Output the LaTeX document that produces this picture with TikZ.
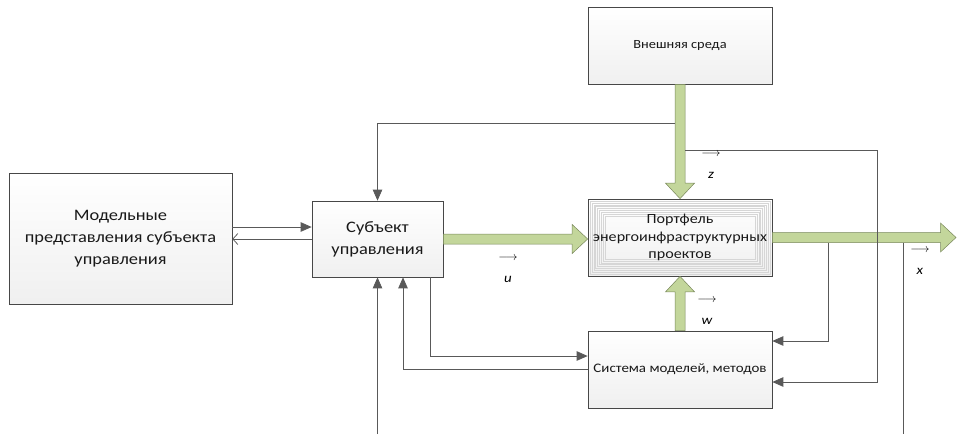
\documentclass[tikz,border=0pt]{standalone}
\usepackage{fontspec}
\setmainfont{Carlito}[FakeStretch=1.15]
\usetikzlibrary{arrows.meta,calc,shadows}

\definecolor{verdeSeta}{RGB}{195,214,155}
\definecolor{bordaSeta}{RGB}{120,135,90}
\definecolor{linha}{RGB}{89,89,89}

% seta larga verde: #1 inicio, #2 ponta
\newcommand{\setaverde}[2]{%
  \coordinate (sv-base) at ($(#2)!15.5pt!(#1)$);
  \filldraw[fill=verdeSeta, draw=bordaSeta, line width=0.5pt]
    ($(#1)!5pt!90:(#2)$) -- ($(sv-base)!5pt!-90:(#1)$) -- ($(sv-base)!14.5pt!-90:(#1)$)
    -- (#2) -- ($(sv-base)!14.5pt!90:(#1)$) -- ($(sv-base)!5pt!90:(#1)$)
    -- ($(#1)!5pt!-90:(#2)$) -- cycle;
}

\begin{document}
\begin{tikzpicture}[x=1pt,y=-1pt,
    caixa/.style={draw=linha!80!black, line width=0.7pt, top color=white, bottom color=gray!12,
      minimum width=184pt, minimum height=77pt, align=center, inner sep=2pt, text=black!90,
      drop shadow={shadow xshift=1.2pt, shadow yshift=-1.2pt, opacity=0.25, fill=gray}},
    padrao/.style={path picture={\foreach \i in {1,...,9}{
        \draw[gray!32, line width=0.4pt] ([shift={(\i*1.9pt,-\i*1.9pt)}]path picture bounding box.north west)
          rectangle ([shift={(-\i*1.9pt,\i*1.9pt)}]path picture bounding box.south east);}}},
    grande/.style={font=\fontsize{16}{22}\selectfont},
    fio/.style={draw=linha, line width=0.75pt},
    ponta/.style={-{Triangle[length=11pt,width=9.5pt]}},
    vetor/.style={align=center, inner sep=0pt, font=\fontsize{13}{22}\selectfont}]
  \useasboundingbox (0,0) rectangle (957,434); %Moldura
		%Caixas
  \node[caixa, grande, minimum width=223pt, minimum height=131pt] (modelos) at (120.5,238.5) {Модельные\\представления субъекта\\управления};
  \node[caixa, grande, minimum width=131pt, minimum height=76pt] (sujeito) at (377.5,239) {Субъект\\управления};
  \node[caixa, font=\fontsize{12.5}{16}\selectfont] (ambiente) at (680,45.5) {Внешняя среда};
  \node[caixa, padrao, font=\fontsize{14}{17.5}\selectfont] (portfolio) at (680,237.5) {Портфель\\энергоинфраструктурных\\проектов};
  \node[caixa, font=\fontsize{13}{16}\selectfont] (sistema) at (680,369.5) {Система моделей, методов};
		%Setas verdes
  \coordinate (entrada) at (sujeito.east -| portfolio.west);
  \coordinate (saida) at (956,237.5);
  \setaverde{sujeito.east}{entrada} %u
  \setaverde{ambiente.south}{portfolio.north} %z
  \setaverde{sistema.north}{portfolio.south} %w
  \setaverde{portfolio.east}{saida} %x
		%Setas finas
  \coordinate (m1) at ([yshift=11.5pt]modelos.east);
  \draw[fio, ponta] (m1) -- (m1 -| sujeito.west); %Para o sujeito
  \draw[fio, -{Straight Barb[length=5pt,width=11pt]}] (sujeito.west) -- (sujeito.west -| modelos.east); %Volta
  \coordinate (z1) at ($(ambiente.south)+(-5,39)$);
  \coordinate (z2) at ($(ambiente.south)+(5,66)$);
  \coordinate (c2) at (877,382);
  \draw[fio, ponta] (z1) -| (sujeito.north); %Ambiente -> sujeito
  \draw[fio, ponta] (z2) -| (c2) -- (c2 -| sistema.east); %Ambiente -> sistema
  \coordinate (s1) at (828,242.5);
  \coordinate (s2) at (903,242.5);
  \coordinate (fim2) at (903,434);
  \coordinate (fim1) at (377.5,434);
  \draw[fio, ponta] (s1) |- ([yshift=28.5pt]sistema.east); %Saida -> sistema
  \draw[fio] (s2) -- (fim2); %Saida para baixo
  \draw[fio, ponta] (fim1) -- (sujeito.south); %De baixo
  \draw[fio, ponta] ([xshift=52.5pt]sujeito.south) |- ([yshift=13.5pt]sistema.west); %Sujeito -> sistema
  \draw[fio, ponta] (sistema.west) -| ([xshift=25.5pt]sujeito.south); %Sistema -> sujeito
		%Vetores
  \node[vetor] (u) at (508,269.5) {$\longrightarrow$\\\textit{u}};
  \node[vetor] (z) at (711,165) {$\longrightarrow$\\\textit{z}};
  \node[vetor] (w) at (707,311) {$\longrightarrow$\\\textit{w}};
  \node[vetor] (x) at (920,261.5) {$\longrightarrow$\\\textit{x}};
\end{tikzpicture}
\end{document}
